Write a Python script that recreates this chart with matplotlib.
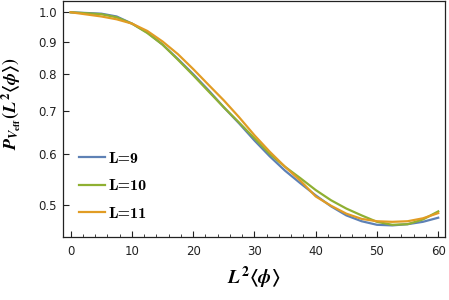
import matplotlib
matplotlib.use("Agg")
import matplotlib.pyplot as plt
import matplotlib.ticker as mticker
import numpy as np

plt.rcParams['mathtext.fontset'] = 'custom'
plt.rcParams['mathtext.it'] = 'STIXGeneral:italic:bold'
plt.rcParams['mathtext.rm'] = 'STIXGeneral:bold'
plt.rcParams['mathtext.bf'] = 'STIXGeneral:bold'

x = [0, 5, 7.5, 10, 12.5, 15, 17.5, 20, 22.5, 25, 27.5, 30, 32.5, 35, 37.5,
     40, 42.5, 45, 47.5, 50, 52.5, 55, 57.5, 60]
p_L9 = [1.0, 0.995, 0.985, 0.96, 0.93, 0.89, 0.845, 0.80, 0.755, 0.71, 0.67,
        0.63, 0.595, 0.565, 0.54, 0.517, 0.497, 0.481, 0.471, 0.465, 0.464,
        0.466, 0.47, 0.477]
p_L10 = [1.0, 0.993, 0.982, 0.96, 0.928, 0.89, 0.843, 0.797, 0.752, 0.71,
         0.672, 0.635, 0.6, 0.573, 0.55, 0.527, 0.508, 0.493, 0.481, 0.47,
         0.465, 0.466, 0.474, 0.488]
p_L11 = [1.0, 0.985, 0.975, 0.96, 0.935, 0.9, 0.86, 0.815, 0.77, 0.728,
         0.685, 0.642, 0.605, 0.573, 0.545, 0.515, 0.498, 0.484, 0.475, 0.471,
         0.47, 0.471, 0.476, 0.485]
labels = ["L=9", "L=10", "L=11"]
colors = ["#5E81B5", "#8FB032", "#E19C24"]
yticks = [0.5, 0.6, 0.7, 0.8, 0.9, 1.0]
xticks = [0, 10, 20, 30, 40, 50, 60]

fig = plt.figure(figsize=(4.49, 3.0), dpi=100)
ax = fig.add_axes([0.1396, 0.21, 0.991 - 0.1396, 0.9967 - 0.21])

for ys, lab, c in zip([p_L9, p_L10, p_L11], labels, colors):
    ax.plot(x, ys, color=c, lw=1.6, label=lab)

ax.set_yscale('log')
ax.set_xlim(-1.31, 61.1)
ax.set_ylim(0.445, 1.0415)
ax.yaxis.set_major_locator(mticker.FixedLocator(yticks))
ax.yaxis.set_major_formatter(mticker.FixedFormatter([f"{v:.1f}" for v in yticks]))
ax.yaxis.set_minor_locator(mticker.NullLocator())
ax.xaxis.set_major_locator(mticker.FixedLocator(xticks))
ax.xaxis.set_minor_locator(mticker.MultipleLocator(2))

ax.tick_params(which='both', direction='in', top=False, right=False,
               labelsize=8.5, colors='#222222', labelcolor='#222222')
ax.tick_params(which='major', length=4, width=0.8)
ax.tick_params(which='minor', length=2.2, width=0.6)
ax.tick_params(axis='x', pad=6)
ax.tick_params(axis='y', pad=4)
for s in ax.spines.values():
    s.set_color('#222222')
    s.set_linewidth(0.9)

ax.set_xlabel(r'$L^2\langle\phi\rangle$', fontsize=14, labelpad=5)
ax.set_ylabel(r'$P_{V_{\mathrm{eff}}}(L^2\langle\phi\rangle)$', fontsize=13)
ax.yaxis.set_label_coords(-0.103, 0.564)

ax.legend(loc='lower left', bbox_to_anchor=(0.006, 0.009), frameon=False,
          prop={'family': 'cmb10', 'size': 11.5},
          handlelength=1.6, labelspacing=0.82, handletextpad=0.25)

fig.savefig("out.png", dpi=100)
